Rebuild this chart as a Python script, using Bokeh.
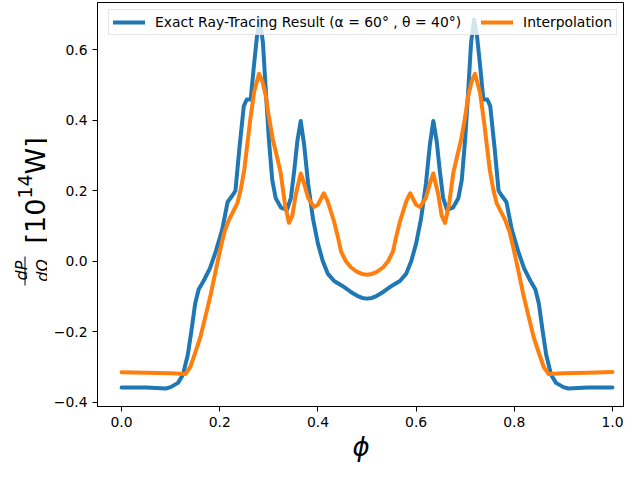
import math
from bokeh.plotting import figure
from bokeh.layouts import row
from bokeh.models import (Range1d, Legend, LegendItem, CustomJSTickFormatter, FixedTicker)
from bokeh.core.properties import value
from bokeh.embed import file_html
from bokeh.resources import INLINE

# ---------------- data ----------------
exact_phi = [0.000, 0.050, 0.090, 0.100, 0.115, 0.125, 0.135, 0.142, 0.150, 0.157,
             0.167, 0.180, 0.192, 0.205, 0.216, 0.225, 0.232, 0.240, 0.249, 0.255,
             0.263, 0.270, 0.276, 0.282, 0.288, 0.294, 0.300, 0.307, 0.314, 0.325,
             0.337, 0.345, 0.352, 0.358, 0.365, 0.372, 0.380, 0.390, 0.400, 0.410,
             0.420, 0.433, 0.450, 0.467, 0.480, 0.490, 0.500,
             0.510, 0.520, 0.533, 0.550, 0.567, 0.580, 0.590, 0.600, 0.610, 0.620,
             0.628, 0.635, 0.642, 0.648, 0.655, 0.663, 0.675, 0.686, 0.693, 0.700,
             0.706, 0.712, 0.718, 0.724, 0.730, 0.737, 0.745, 0.751, 0.760, 0.768,
             0.775, 0.784, 0.795, 0.808, 0.820, 0.833, 0.843, 0.850, 0.858, 0.865,
             0.875, 0.885, 0.900, 0.910, 0.950, 1.000]
exact_power = [-0.358, -0.358, -0.361, -0.357, -0.345, -0.322, -0.265, -0.200, -0.120, -0.080,
               -0.056, -0.020, 0.028, 0.090, 0.168, 0.185, 0.200, 0.320, 0.440, 0.459,
               0.459, 0.560, 0.640, 0.685, 0.620, 0.480, 0.347, 0.230, 0.179, 0.152,
               0.146, 0.180, 0.260, 0.340, 0.398, 0.330, 0.220, 0.120, 0.050, 0.000,
               -0.035, -0.056, -0.070, -0.087, -0.098, -0.104, -0.106,
               -0.104, -0.098, -0.087, -0.070, -0.056, -0.035, 0.000, 0.050, 0.120, 0.220,
               0.330, 0.398, 0.340, 0.260, 0.180, 0.146, 0.152, 0.179, 0.230, 0.347,
               0.480, 0.620, 0.685, 0.640, 0.560, 0.459, 0.459, 0.440, 0.320, 0.200,
               0.185, 0.168, 0.090, 0.028, -0.020, -0.056, -0.080, -0.120, -0.200, -0.265,
               -0.322, -0.345, -0.357, -0.361, -0.358, -0.358]

interp_phi = [0.000, 0.050, 0.100, 0.130, 0.140, 0.150, 0.161, 0.172, 0.182, 0.192,
              0.202, 0.210, 0.218, 0.227, 0.236, 0.243, 0.250, 0.256, 0.262, 0.270,
              0.280, 0.287, 0.294, 0.300, 0.308, 0.316, 0.324, 0.333, 0.341, 0.348,
              0.355, 0.365, 0.372, 0.380, 0.392, 0.400, 0.412, 0.420, 0.433, 0.441,
              0.447, 0.457, 0.467, 0.480, 0.490, 0.500,
              0.510, 0.520, 0.533, 0.543, 0.553, 0.559, 0.567, 0.580, 0.588, 0.600,
              0.608, 0.620, 0.628, 0.635, 0.645, 0.652, 0.659, 0.667, 0.676, 0.684,
              0.692, 0.700, 0.706, 0.713, 0.720, 0.730, 0.738, 0.744, 0.750, 0.757,
              0.764, 0.773, 0.782, 0.790, 0.798, 0.808, 0.818, 0.828, 0.839, 0.850,
              0.860, 0.870, 0.900, 0.950, 1.000]
interp_power = [-0.315, -0.316, -0.318, -0.320, -0.300, -0.260, -0.213, -0.150, -0.092, -0.025,
                0.039, 0.085, 0.115, 0.140, 0.165, 0.205, 0.260, 0.330, 0.400, 0.480,
                0.532, 0.510, 0.468, 0.410, 0.347, 0.300, 0.252, 0.160, 0.109, 0.130,
                0.190, 0.249, 0.220, 0.180, 0.154, 0.160, 0.193, 0.170, 0.112, 0.067,
                0.028, 0.000, -0.017, -0.030, -0.036, -0.038,
                -0.036, -0.030, -0.017, 0.000, 0.028, 0.067, 0.112, 0.170, 0.193, 0.160,
                0.154, 0.180, 0.220, 0.249, 0.190, 0.130, 0.109, 0.160, 0.252, 0.300,
                0.347, 0.410, 0.468, 0.510, 0.532, 0.480, 0.400, 0.330, 0.260, 0.205,
                0.165, 0.140, 0.115, 0.085, 0.039, -0.025, -0.092, -0.150, -0.213, -0.260,
                -0.300, -0.320, -0.318, -0.316, -0.314]

x_ticks = [0.0, 0.2, 0.4, 0.6, 0.8, 1.0]
y_ticks = [-0.4, -0.2, 0.0, 0.2, 0.4, 0.6]
label_exact = "Exact Ray-Tracing Result (α = 60° , θ = 40°)"
label_interp = "Interpolation"
x_label = "ϕ"

BLUE = "#1f77b4"
ORANGE = "#ff7f0e"
FONT = "DejaVu Sans"

H = 464
LW = 47           # width of the y-label strip
TOP, BOTTOM = 2, 58   # borders shared by both figures

# ---------------- main figure ----------------
p = figure(width=624 - LW, height=H,
           x_range=Range1d(-0.049, 1.0245), y_range=Range1d(-0.412, 0.734),
           output_backend="svg", toolbar_location=None,
           min_border_left=97 - LW, min_border_right=0,
           min_border_top=TOP, min_border_bottom=BOTTOM)
p.xgrid.visible = False
p.ygrid.visible = False
p.outline_line_color = "black"
p.outline_line_width = 1
p.background_fill_color = "white"
p.border_fill_color = "white"

fmt = CustomJSTickFormatter(code="return tick.toFixed(1).replace('-', '\u2212');")
p.xaxis.ticker = FixedTicker(ticks=x_ticks)
p.yaxis.ticker = FixedTicker(ticks=y_ticks)
for ax in (p.xaxis, p.yaxis):
    ax.formatter = fmt
    ax.minor_tick_line_color = None
    ax.major_tick_out = 5
    ax.major_tick_in = 0
    ax.major_tick_line_color = "black"
    ax.axis_line_color = "black"
    ax.major_label_text_font = FONT
    ax.major_label_text_font_size = "13.9px"
    ax.major_label_text_color = "black"
    ax.major_label_standoff = 5

p.xaxis.axis_label = x_label
p.xaxis.axis_label_text_font = FONT
p.xaxis.axis_label_text_font_style = "italic"
p.xaxis.axis_label_text_font_size = "26px"
p.xaxis.axis_label_text_color = "black"
p.xaxis.axis_label_standoff = 2

r1 = p.line(exact_phi, exact_power, line_color=BLUE, line_width=4,
            line_join="round", line_cap="round")
r2 = p.line(interp_phi, interp_power, line_color=ORANGE, line_width=4,
            line_join="round", line_cap="round")

legend = Legend(items=[LegendItem(label=label_exact, renderers=[r1]),
                       LegendItem(label=label_interp, renderers=[r2])],
                location="top_right", orientation="horizontal",
                label_text_font=FONT, label_text_font_size="13.9px",
                label_text_color="black",
                glyph_width=32, glyph_height=14, label_standoff=10, spacing=20,
                padding=4, margin=7, border_line_color="#cccccc",
                background_fill_alpha=0.8)
p.add_layout(legend)

# ---------------- y-label strip (a narrow figure holding the label texts) ----------------
# its frame is aligned with the main frame; data y equals the pixel row
lf = figure(width=LW, height=H, x_range=Range1d(0, LW), y_range=Range1d(H - BOTTOM, TOP),
            x_axis_type=None, y_axis_type=None,
            output_backend="svg", toolbar_location=None,
            min_border=0, min_border_left=0, min_border_right=0,
            min_border_top=TOP, min_border_bottom=BOTTOM)
lf.grid.visible = False
lf.outline_line_color = None
lf.background_fill_color = "white"
lf.border_fill_color = "white"

rot = math.pi / 2
# big part "[10", superscript "14", "W]"
lf.text(x=[35], y=[243], text=["[10"], angle=rot, text_font=value(FONT),
        text_font_size=value("27px"), text_align="left", text_baseline="alphabetic",
        text_color="black")
lf.text(x=[24], y=[198], text=["14"], angle=rot, text_font=value(FONT),
        text_font_size=value("19px"), text_align="left", text_baseline="alphabetic",
        text_color="black")
lf.text(x=[35], y=[174], text=["W]"], angle=rot, text_font=value(FONT),
        text_font_size=value("27px"), text_align="left", text_baseline="alphabetic",
        text_color="black")
# fraction dP / dΩ
lf.text(x=[21], y=[270], text=["dP"], angle=rot, text_font=value(FONT),
        text_font_style="italic", text_font_size=value("16px"),
        text_align="center", text_baseline="alphabetic", text_color="black")
lf.text(x=[42], y=[270], text=["dΩ"], angle=rot, text_font=value(FONT),
        text_font_style="italic", text_font_size=value("16px"),
        text_align="center", text_baseline="alphabetic", text_color="black")
lf.segment(x0=[24.5], y0=[256], x1=[24.5], y1=[285], line_color="black", line_width=1)

layout = row(lf, p, spacing=0)
open("out.html", "w").write(file_html(layout, INLINE))
